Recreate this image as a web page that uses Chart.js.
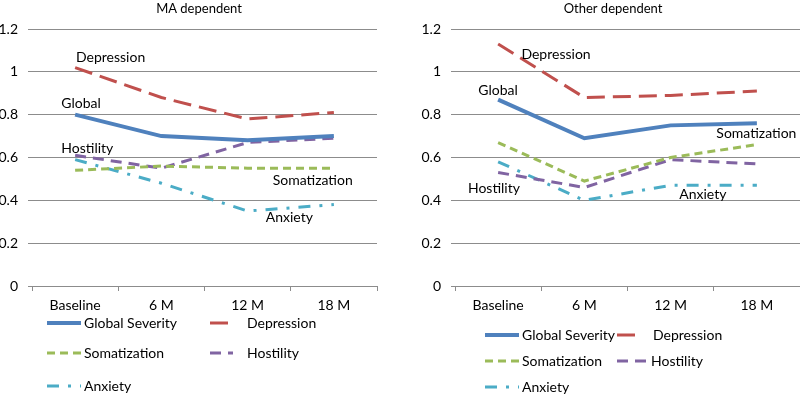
<!DOCTYPE html>
<html>
<head>
<meta charset="utf-8">
<script src="https://cdn.jsdelivr.net/npm/chart.js@4/dist/chart.umd.min.js"></script>
<style>
  html, body { margin: 0; padding: 0; background: #fff; }
  #wrap { position: relative; width: 800px; height: 394px; }
  canvas { position: absolute; top: 0; }
  #maChart { left: 0; }
  #otherChart { left: 400px; }
</style>
</head>
<body>
<div id="wrap">
  <canvas id="maChart" width="400" height="394"></canvas>
  <canvas id="otherChart" width="400" height="394"></canvas>
</div>
<script>
// categories and series
const categories = ['Baseline', '6 M', '12 M', '18 M'];
const seriesNames = ['Global Severity', 'Depression', 'Somatization', 'Hostility', 'Anxiety'];
const yTicks = [0, 0.2, 0.4, 0.6, 0.8, 1, 1.2];

// MA dependent
const maGlobal = [0.80, 0.70, 0.68, 0.70];
const maDepression = [1.02, 0.88, 0.78, 0.81];
const maSomatization = [0.54, 0.56, 0.55, 0.55];
const maHostility = [0.61, 0.55, 0.67, 0.69];
const maAnxiety = [0.59, 0.48, 0.35, 0.38];

// Other dependent
const otherGlobal = [0.87, 0.69, 0.75, 0.76];
const otherDepression = [1.13, 0.88, 0.89, 0.91];
const otherSomatization = [0.67, 0.49, 0.60, 0.66];
const otherHostility = [0.53, 0.46, 0.59, 0.57];
const otherAnxiety = [0.58, 0.40, 0.47, 0.47];

const colors = ['#4F81BD', '#C0504D', '#9BBB59', '#8064A2', '#4BACC6'];
const dashes = [[], [18, 8], [8, 5], [11, 7], [12, 9, 3, 9]];
const widths = [4, 3, 3, 3, 3];
const gridColor = '#8c8c8c';

Chart.defaults.font.family = 'Lato, "Open Sans", sans-serif';
Chart.defaults.font.size = 14;
Chart.defaults.color = '#000';

// titles, in-plot labels and legend drawn by hand
const extrasPlugin = {
    id: 'extras',
    afterDatasetsDraw(chart, args, opts) {
        const ctx = chart.ctx;
        const xs = chart.scales.x, ys = chart.scales.y;
        ctx.save();
        ctx.fillStyle = '#000';
        ctx.textBaseline = 'middle';

        ctx.font = '13px Lato, "Open Sans", sans-serif';
        ctx.textAlign = 'center';
        ctx.fillText(opts.title, opts.titleX, 9);

        ctx.font = '14px Lato, "Open Sans", sans-serif';
        ctx.textAlign = 'left';
        opts.notes.forEach(function (n) {
            ctx.fillText(n.text, xs.getPixelForValue(n.at), ys.getPixelForValue(n.value));
        });

        // legend
        chart.data.datasets.forEach(function (ds, i) {
            const item = opts.legend[i];
            ctx.beginPath();
            ctx.strokeStyle = ds.borderColor;
            ctx.lineWidth = ds.borderWidth;
            ctx.setLineDash(ds.borderDash);
            ctx.lineCap = 'butt';
            ctx.moveTo(item.x, item.y);
            ctx.lineTo(item.x + item.len, item.y);
            ctx.stroke();
            ctx.setLineDash([]);
            ctx.fillText(ds.label, item.x + item.len + item.gap, item.y);
        });
        ctx.restore();
    }
};

function buildChart(id, values, title, titleX, yWidth, padRight, notes, legend) {
    const datasets = values.map(function (v, i) {
        return {
            label: seriesNames[i],
            data: v,
            borderColor: colors[i],
            backgroundColor: colors[i],
            borderWidth: widths[i],
            borderDash: dashes[i],
            borderCapStyle: 'butt',
            pointRadius: 0,
            tension: 0,
            fill: false
        };
    });
    return new Chart(document.getElementById(id), {
        type: 'line',
        data: { labels: categories, datasets: datasets },
        plugins: [extrasPlugin],
        options: {
            responsive: false,
            animation: false,
            devicePixelRatio: 1,
            layout: { padding: { left: 0, right: padRight, top: 29, bottom: 78 } },
            plugins: {
                legend: { display: false },
                tooltip: { enabled: false },
                extras: { title: title, titleX: titleX, notes: notes, legend: legend }
            },
            scales: {
                x: {
                    type: 'category',
                    offset: true,
                    grid: { offset: true, drawOnChartArea: false, drawTicks: true, tickLength: 5, color: gridColor },
                    border: { display: true, color: gridColor },
                    ticks: { padding: 6, font: { size: 14 } },
                    afterFit(s) { s.height = 30; }
                },
                y: {
                    min: 0,
                    max: 1.2,
                    afterBuildTicks(s) { s.ticks = yTicks.map(v => ({ value: v })); },
                    grid: { color: gridColor, tickLength: 4 },
                    border: { display: false },
                    ticks: { padding: 10, font: { size: 14 }, callback: v => String(+v.toFixed(1)) },
                    afterFit(s) { s.width = yWidth; }
                }
            }
        }
    });
}

buildChart('maChart',
    [maGlobal, maDepression, maSomatization, maHostility, maAnxiety],
    'MA dependent', 199, 32, 23,
    [
        { text: 'Depression', at: 0.01, value: 1.065 },
        { text: 'Global', at: -0.16, value: 0.85 },
        { text: 'Hostility', at: -0.16, value: 0.64 },
        { text: 'Somatization', at: 2.29, value: 0.495 },
        { text: 'Anxiety', at: 2.21, value: 0.322 }
    ],
    [
        { x: 47, y: 323, len: 34, gap: 3 },
        { x: 210, y: 323, len: 23, gap: 14 },
        { x: 47, y: 353, len: 34, gap: 3 },
        { x: 210, y: 353, len: 23, gap: 14 },
        { x: 47, y: 386, len: 34, gap: 3 }
    ]);

buildChart('otherChart',
    [otherGlobal, otherDepression, otherSomatization, otherHostility, otherAnxiety],
    'Other dependent', 213, 55, 0,
    [
        { text: 'Depression', at: 0.27, value: 1.079 },
        { text: 'Global', at: -0.23, value: 0.915 },
        { text: 'Somatization', at: 2.53, value: 0.71 },
        { text: 'Hostility', at: -0.35, value: 0.457 },
        { text: 'Anxiety', at: 2.10, value: 0.425 }
    ],
    [
        { x: 85, y: 335, len: 34, gap: 3 },
        { x: 217, y: 335, len: 23, gap: 13 },
        { x: 85, y: 361, len: 34, gap: 3 },
        { x: 217, y: 361, len: 31, gap: 3 },
        { x: 85, y: 387, len: 34, gap: 3 }
    ]);
</script>
</body>
</html>
